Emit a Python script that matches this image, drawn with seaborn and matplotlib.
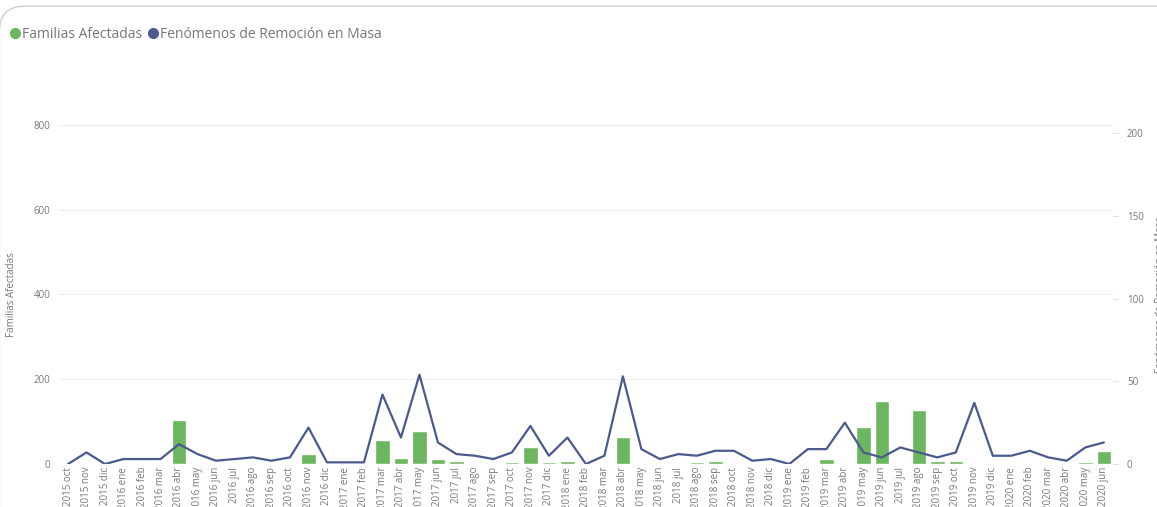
import numpy as np
import pandas as pd
import seaborn as sns
import matplotlib.pyplot as plt
from matplotlib.patches import FancyBboxPatch
from matplotlib.lines import Line2D

# meses del periodo
meses = ['2015 oct', '2015 nov', '2015 dic',
         '2016 ene', '2016 feb', '2016 mar', '2016 abr', '2016 may', '2016 jun',
         '2016 jul', '2016 ago', '2016 sep', '2016 oct', '2016 nov', '2016 dic',
         '2017 ene', '2017 feb', '2017 mar', '2017 abr', '2017 may', '2017 jun',
         '2017 jul', '2017 ago', '2017 sep', '2017 oct', '2017 nov', '2017 dic',
         '2018 ene', '2018 feb', '2018 mar', '2018 abr', '2018 may', '2018 jun',
         '2018 jul', '2018 ago', '2018 sep', '2018 oct', '2018 nov', '2018 dic',
         '2019 ene', '2019 feb', '2019 mar', '2019 abr', '2019 may', '2019 jun',
         '2019 jul', '2019 ago', '2019 sep', '2019 oct', '2019 nov', '2019 dic',
         '2020 ene', '2020 feb', '2020 mar', '2020 abr', '2020 may', '2020 jun']

familias = [0, 3, 0,
            0, 0, 3, 105, 3, 3, 0, 3, 3, 0, 24, 0,
            0, 2, 57, 15, 78, 12, 8, 0, 3, 4, 41, 4,
            8, 0, 3, 63, 3, 0, 3, 5, 8, 3, 3, 0,
            0, 0, 12, 0, 88, 149, 0, 127, 8, 6, 0, 3,
            0, 0, 3, 3, 5, 31]

fenomenos = [0, 7, 0,
             3, 3, 3, 12, 6, 2, 3, 4, 2, 4, 22, 1,
             1, 1, 42, 16, 54, 13, 6, 5, 3, 7, 23, 5,
             16, 0, 5, 53, 9, 3, 6, 5, 8, 8, 2, 3,
             0, 9, 9, 25, 7, 4, 10, 7, 4, 7, 37, 5,
             5, 8, 4, 2, 10, 13]

df = pd.DataFrame({'mes': meses, 'familias': familias, 'fenomenos': fenomenos})

verde = '#6cb65f'
azul = '#4a5a8f'
gris = '#777777'

sns.set_theme(style='white')
plt.rcParams['font.family'] = ['Open Sans', 'DejaVu Sans']

fig = plt.figure(figsize=(11.57, 5.07), dpi=100)
ax = fig.add_axes([0.0508, 0.0848, 0.9112, 0.6687])

sns.barplot(data=df, x='mes', y='familias', color=verde, saturation=1,
            width=0.78, ax=ax, zorder=2)
ax.set_ylim(0, 800)
ax.set_yticks([0, 200, 400, 600, 800])
ax.yaxis.grid(True, color='#eeeeee', linewidth=0.8, zorder=0)
ax.set_axisbelow(True)
ax.set_xlim(-0.5, len(meses) - 0.5)
ax.set_xlabel('')
ax.set_ylabel('Familias Afectadas', fontsize=7, color=gris, labelpad=12)
ax.tick_params(axis='x', labelrotation=90, labelsize=7, labelcolor=gris, length=0, pad=2)
ax.tick_params(axis='y', labelsize=7, labelcolor=gris, length=0, pad=6)
for s in ax.spines.values():
    s.set_visible(False)

ax2 = ax.twinx()
sns.lineplot(x=np.arange(len(meses)), y=df['fenomenos'], color=azul,
             linewidth=1.6, ax=ax2, zorder=3)
ax2.set_ylim(0, 205)
ax2.set_yticks([0, 50, 100, 150, 200])
ax2.set_ylabel('Fenómenos de Remoción en Masa', fontsize=7, color=gris, labelpad=8)
ax2.tick_params(axis='y', labelsize=7, labelcolor=gris, length=4, width=0.6,
                color='#dddddd', pad=6)
for s in ax2.spines.values():
    s.set_visible(False)
ax2.set_xlim(-0.5, len(meses) - 0.5)

# leyenda
handles = [Line2D([], [], marker='o', linestyle='', color=verde, markersize=7),
           Line2D([], [], marker='o', linestyle='', color=azul, markersize=7)]
fig.legend(handles, ['Familias Afectadas', 'Fenómenos de Remoción en Masa'],
           loc='upper left', bbox_to_anchor=(0.003, 0.957), ncol=2, frameon=False,
           fontsize=10, labelcolor=gris, handletextpad=0.05, columnspacing=0.3,
           handlelength=0.9, borderaxespad=0)

# marco de la tarjeta
marco = FancyBboxPatch((-0.0005, -0.2), 1.1, 1.188, transform=fig.transFigure,
                       boxstyle='round,pad=0,rounding_size=0.022', facecolor='none',
                       edgecolor='#cfcfcf', linewidth=1.0, mutation_aspect=2.28)
fig.patches.append(marco)

fig.savefig('out.png', dpi=100)
